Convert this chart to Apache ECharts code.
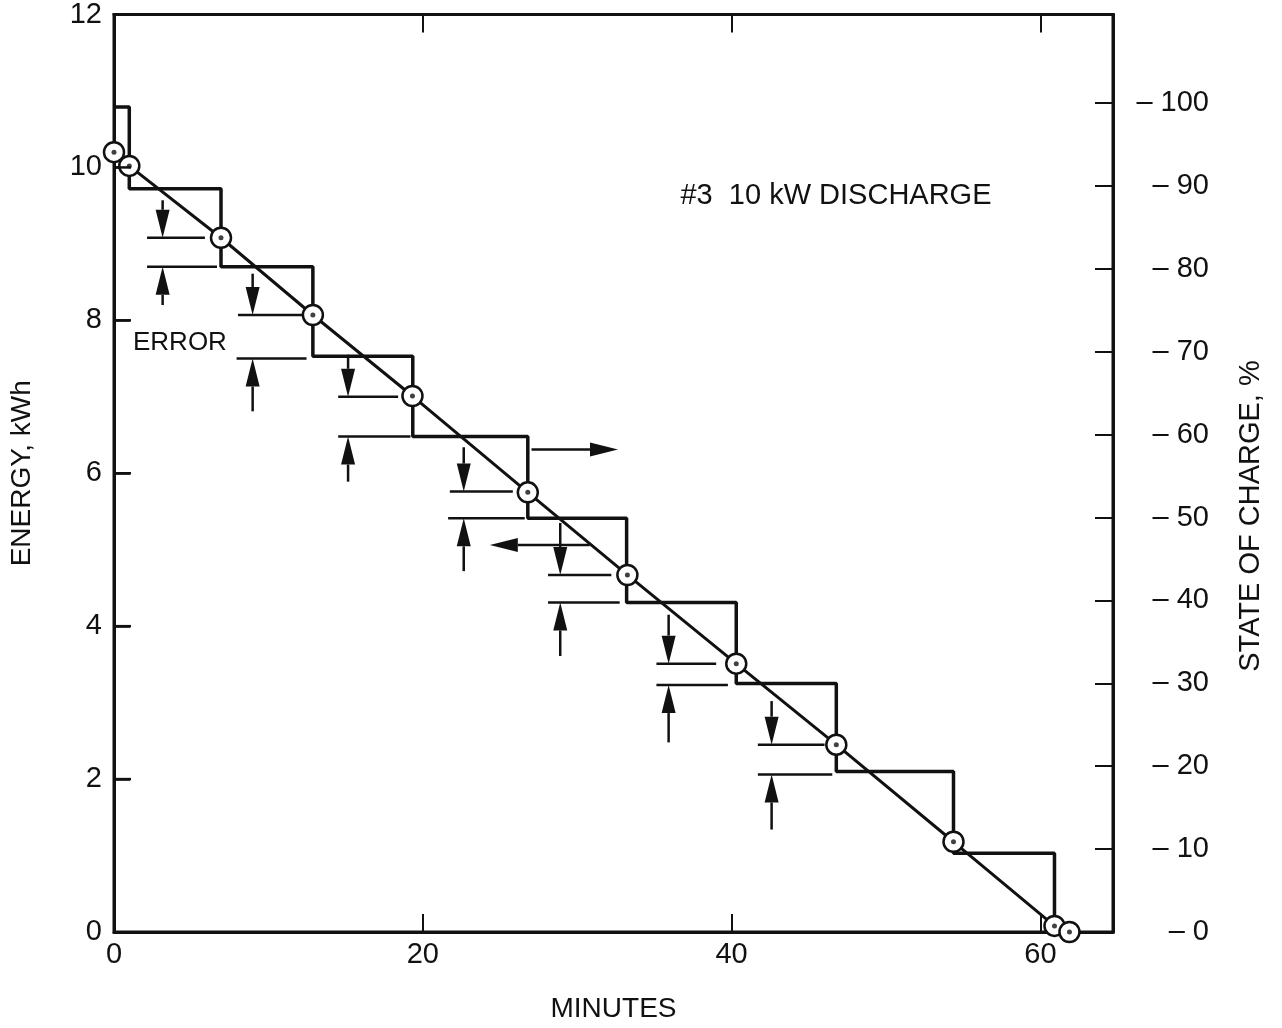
<!DOCTYPE html>
<html>
<head>
<meta charset="utf-8">
<script src="https://cdn.jsdelivr.net/npm/echarts@6/dist/echarts.min.js"></script>
<style>
html,body{margin:0;padding:0;background:#fff;}
#chart{width:1282px;height:1028px;}
</style>
</head>
<body>
<div id="chart"></div>
<script>
// ---- data ----
const minuteTicks = [0, 20, 40, 60];
const energyTicks = [0, 2, 4, 6, 8, 10, 12];
const energyInnerTicks = [2, 4, 6, 8, 10];
const socTicks = [0, 10, 20, 30, 40, 50, 60, 70, 80, 90, 100];

// measured (circled) points on the straight discharge line
const pointMinutes = [0, 0.99, 6.93, 12.88, 19.33, 26.80, 33.25, 40.30, 46.78, 54.37, 60.91, 61.88];
const pointEnergy  = [10.20, 10.02, 9.08, 8.07, 7.01, 5.75, 4.67, 3.51, 2.45, 1.18, 0.08, 0.0];

// indicated (staircase) energy
const stepMinutes = [0, 0.99, 6.93, 12.88, 19.35, 26.80, 33.20, 40.30, 46.78, 54.37, 60.91];
const stepEnergy  = [10.79, 9.72, 8.70, 7.53, 6.48, 5.41, 4.31, 3.25, 2.10, 1.03, 0];

// error reference lines: [fromMinute, toMinute, energy]
const errorLines = [
  [2.14, 5.89, 9.08], [2.14, 6.67, 8.70],
  [8.03, 12.23, 8.07], [7.94, 12.47, 7.50],
  [14.52, 18.40, 7.00], [14.52, 19.20, 6.48],
  [21.75, 25.83, 5.76], [21.64, 26.60, 5.41],
  [28.11, 32.21, 4.67], [28.11, 32.75, 4.31],
  [35.13, 39.00, 3.51], [35.13, 39.76, 3.23],
  [41.70, 46.02, 2.45], [41.70, 46.52, 2.06]
];

// vertical error arrows: [minute, fromEnergy, toEnergy]
const errorArrows = [
  [3.15, 9.57, 9.08], [3.15, 8.20, 8.70],
  [8.98, 8.61, 8.07], [8.98, 6.81, 7.50],
  [15.16, 7.55, 7.00], [15.16, 5.89, 6.48],
  [22.65, 6.34, 5.76], [22.65, 4.72, 5.41],
  [28.90, 5.35, 4.67], [28.90, 3.61, 4.31],
  [35.92, 4.15, 3.51], [35.92, 2.48, 3.23],
  [42.59, 3.02, 2.45], [42.59, 1.34, 2.06]
];

// horizontal arrows: [fromMinute, toMinute, energy]
const shiftArrows = [
  [27.04, 32.64, 6.31],
  [30.81, 24.34, 5.06]
];

const chartTitle = '#3  10 kW DISCHARGE';
const errorText = 'ERROR';
const socTitle = 'STATE OF CHARGE, %';

// ---- chart ----
const INK = '#111';
const FONT = '"Liberation Sans", Arial, Helvetica, sans-serif';
const X_MIN = 0;
const X_MAX = 64.7;
const SOC_MAX = 110.7;

const chart = echarts.init(document.getElementById('chart'), null, {renderer: 'canvas'});

function arrowGroup(p1, p2) {
  const dx = p2[0] - p1[0], dy = p2[1] - p1[1];
  const L = Math.hypot(dx, dy) || 1;
  const ux = dx / L, uy = dy / L;
  const hl = Math.min(28, L), hw = 7;
  const bx = p2[0] - ux * hl, by = p2[1] - uy * hl;
  const nx = -uy, ny = ux;
  return {
    type: 'group',
    children: [
      {type: 'line', shape: {x1: p1[0], y1: p1[1], x2: bx, y2: by}, style: {stroke: INK, lineWidth: 2.5}},
      {type: 'polygon', shape: {points: [[p2[0], p2[1]], [bx + nx * hw, by + ny * hw], [bx - nx * hw, by - ny * hw]]}, style: {fill: INK}}
    ]
  };
}

const option = {
  backgroundColor: '#fff',
  animation: false,
  grid: {left: 114, right: 169, top: 12, bottom: 95, show: true, borderColor: INK, borderWidth: 3, backgroundColor: 'transparent'},
  xAxis: [
    {
      type: 'value', position: 'bottom', min: X_MIN, max: X_MAX,
      name: 'MINUTES', nameLocation: 'middle', nameGap: 63,
      nameTextStyle: {color: INK, fontSize: 28, fontFamily: FONT},
      axisLine: {show: true, onZero: false, lineStyle: {color: INK, width: 3}},
      axisTick: {show: true, inside: true, length: 18, lineStyle: {color: INK, width: 2}, customValues: [20, 40, 60]},
      axisLabel: {color: INK, fontSize: 29, fontFamily: FONT, margin: 8, customValues: minuteTicks},
      splitLine: {show: false}
    },
    {
      type: 'value', position: 'top', min: X_MIN, max: X_MAX,
      axisLine: {show: true, onZero: false, lineStyle: {color: INK, width: 3}},
      axisTick: {show: true, inside: true, length: 18, lineStyle: {color: INK, width: 2}, customValues: [20, 40, 60]},
      axisLabel: {show: false},
      splitLine: {show: false}
    }
  ],
  yAxis: [
    {
      type: 'value', position: 'left', min: 0, max: 12, interval: 2,
      name: 'ENERGY, kWh', nameLocation: 'middle', nameGap: 78, nameRotate: 90,
      nameTextStyle: {color: INK, fontSize: 28, fontFamily: FONT},
      axisLine: {show: true, onZero: false, lineStyle: {color: INK, width: 3}},
      axisTick: {show: true, inside: true, length: 16, lineStyle: {color: INK, width: 2.5}},
      axisLabel: {color: INK, fontSize: 29, fontFamily: FONT, margin: 12, customValues: energyTicks},
      splitLine: {show: false}
    },
    {
      type: 'value', position: 'right', min: 0, max: SOC_MAX,
      axisLine: {show: true, onZero: false, lineStyle: {color: INK, width: 3}},
      axisTick: {show: true, inside: true, length: 18, lineStyle: {color: INK, width: 2}, customValues: socTicks},
      axisLabel: {color: INK, fontSize: 29, fontFamily: FONT, margin: 96, align: 'right',
        customValues: socTicks, formatter: v => '\u2013 ' + v},
      splitLine: {show: false}
    }
  ],
  graphic: [
    {type: 'text', x: 836, y: 196, silent: true,
      style: {text: chartTitle, font: '29px ' + FONT, fill: INK, textAlign: 'center', textVerticalAlign: 'middle', align: 'center', verticalAlign: 'middle'}},
    {type: 'text', x: 133, y: 343, silent: true,
      style: {text: errorText, font: '26px ' + FONT, fill: INK, textAlign: 'left', textVerticalAlign: 'middle', align: 'left', verticalAlign: 'middle'}},
    {type: 'text', x: 1251, y: 516, rotation: Math.PI / 2, silent: true,
      style: {text: socTitle, font: '29px ' + FONT, fill: INK, textAlign: 'center', textVerticalAlign: 'middle', align: 'center', verticalAlign: 'middle'}}
  ],
  series: [
    {
      // inward ticks of the left energy axis
      name: 'energyTicks', type: 'custom', silent: true, clip: false,
      xAxisIndex: 0, yAxisIndex: 0,
      encode: {y: 0},
      data: energyInnerTicks.map(v => [v]),
      renderItem(params, api) {
        const p = api.coord([X_MIN, api.value(0)]);
        return {type: 'line', shape: {x1: p[0], y1: p[1], x2: p[0] + 17, y2: p[1]}, style: {stroke: INK, lineWidth: 2.5}};
      },
      z: 10
    },
    {
      name: 'indicated', type: 'line', step: 'end', silent: true, clip: false,
      data: stepMinutes.map((m, i) => [m, stepEnergy[i]]),
      symbol: 'none', lineStyle: {color: INK, width: 3.5}, z: 3
    },
    {
      name: 'errorLines', type: 'custom', silent: true, clip: false,
      encode: {x: [0, 1], y: 2},
      data: errorLines,
      renderItem(params, api) {
        const a = api.coord([api.value(0), api.value(2)]);
        const b = api.coord([api.value(1), api.value(2)]);
        return {type: 'line', shape: {x1: a[0], y1: a[1], x2: b[0], y2: b[1]}, style: {stroke: INK, lineWidth: 2.5}};
      },
      z: 3
    },
    {
      name: 'errorArrows', type: 'custom', silent: true, clip: false,
      encode: {x: 0, y: [1, 2]},
      data: errorArrows,
      renderItem(params, api) {
        const p1 = api.coord([api.value(0), api.value(1)]);
        const p2 = api.coord([api.value(0), api.value(2)]);
        return arrowGroup(p1, p2);
      },
      z: 3
    },
    {
      name: 'shiftArrows', type: 'custom', silent: true, clip: false,
      encode: {x: [0, 1], y: 2},
      data: shiftArrows,
      renderItem(params, api) {
        const p1 = api.coord([api.value(0), api.value(2)]);
        const p2 = api.coord([api.value(1), api.value(2)]);
        return arrowGroup(p1, p2);
      },
      z: 3
    },
    {
      name: 'measured', type: 'line', silent: true, clip: false,
      data: pointMinutes.map((m, i) => [m, pointEnergy[i]]),
      showSymbol: true, showAllSymbol: true, symbol: 'circle', symbolSize: 20,
      itemStyle: {color: '#fff', borderColor: INK, borderWidth: 2.5},
      lineStyle: {color: INK, width: 3}, z: 5
    },
    {
      name: 'measuredDots', type: 'scatter', silent: true, clip: false,
      data: pointMinutes.map((m, i) => [m, pointEnergy[i]]),
      symbol: 'circle', symbolSize: 5, itemStyle: {color: INK}, z: 6
    }
  ]
};
chart.setOption(option);
</script>
</body>
</html>
